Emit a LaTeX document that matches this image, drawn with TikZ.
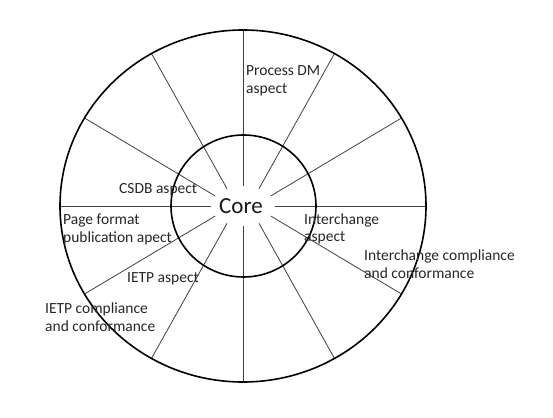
\documentclass[tikz,border=0pt]{standalone}
\usepackage{fontspec}
\setmainfont{Carlito}
\usepackage{tikz}

\begin{document}
\begin{tikzpicture}[x=1pt, y=1pt,
        aspect/.style={anchor=base west, align=left, inner sep=0pt, text=black!85,
            font=\fontsize{15.5}{18}\selectfont}]
    % Frame
    \useasboundingbox (-243,-211) rectangle (310,206);

    % Spokes
    \foreach \a in {0,30,...,330}
        \draw[black!75, line width=0.8pt] ({32*cos(\a)},{20*sin(\a)}) -- ({183*cos(\a)},{176*sin(\a)});

    % Rings
    \draw[line width=1.6pt] (0,0) ellipse (183 and 176);
    \draw[line width=1.6pt] (0.5,0) ellipse (72.5 and 71);

    % Labels (base of the last line)
    \node[inner sep=0pt, text=black!90, font=\fontsize{23}{26}\selectfont] (core) at (-2,0) {Core};
    \node[aspect] (process) at (3,112) {Process DM\\aspect};
    \node[aspect] (csdb) at (-124,12) {CSDB aspect};
    \node[aspect] (page) at (-180,-36.5) {Page format\\publication apect};
    \node[aspect] (interchange) at (61,-36) {Interchange\\aspect};
    \node[aspect] (interconf) at (121,-72) {Interchange compliance\\and conformance};
    \node[aspect] (ietp) at (-116,-76) {IETP aspect};
    \node[aspect] (ietpconf) at (-198,-125) {IETP compliance\\and conformance};
\end{tikzpicture}
\end{document}
